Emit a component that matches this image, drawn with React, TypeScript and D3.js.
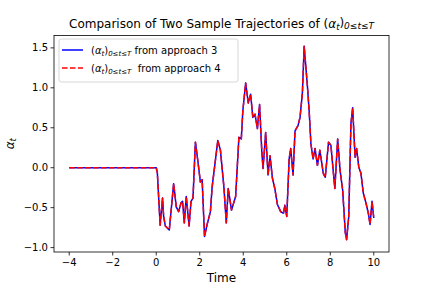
import React from "react";
import * as d3 from "d3";

// sample trajectory
const times = [
  -4, 0, 0.05, 0.18, 0.29, 0.34, 0.42, 0.6, 0.8, 0.92, 1.03, 1.14, 1.21, 1.29,
  1.38, 1.51, 1.6, 1.69, 1.8, 1.91, 2.03, 2.11, 2.22, 2.34, 2.49, 2.57, 2.83,
  2.95, 3.11, 3.22, 3.31, 3.46, 3.65, 3.8, 3.91, 3.98, 4.11, 4.23, 4.34, 4.44,
  4.54, 4.65, 4.75, 4.85, 4.91, 5.03, 5.14, 5.23, 5.34, 5.45, 5.57, 5.72, 5.85,
  5.91, 6.0, 6.11, 6.18, 6.29, 6.38, 6.52, 6.61, 6.72, 6.8, 6.95, 7.03, 7.11,
  7.21, 7.3, 7.41, 7.52, 7.68, 7.77, 7.92, 8.03, 8.21, 8.34, 8.45, 8.57, 8.69,
  8.75, 8.85, 8.95, 9.03, 9.14, 9.21, 9.31, 9.41, 9.52, 9.64, 9.75, 9.83, 9.92,
  10.0,
];
const approach3 = [
  0, 0, -0.06, -0.72, -0.38, -0.61, -0.73, -0.78, -0.2, -0.49, -0.55, -0.44,
  -0.42, -0.69, -0.36, -0.73, -0.42, -0.38, 0.32, 0.09, -0.18, -0.15, -0.86,
  -0.71, -0.55, -0.24, 0.34, 0.22, -0.24, -0.69, -0.26, -0.53, -0.36, 0.38,
  0.36, 0.71, 1.06, 0.81, 0.92, 0.63, 0.67, 0.49, 0.79, 0.22, -0.01, 0.44,
  -0.09, 0.15, -0.13, -0.26, -0.46, -0.55, -0.57, -0.47, -0.61, 0.11, 0.24,
  -0.09, 0.46, 0.53, 0.63, 0.94, 1.52, 1.02, 0.71, 0.3, 0.11, 0.24, 0.03, 0.22,
  -0.07, -0.12, 0.32, 0.28, -0.26, 0.36, -0.03, -0.28, -0.81, -0.9, -0.61,
  0.55, 0.75, 0.13, 0.24, 0.01, -0.07, -0.32, -0.44, -0.57, -0.71, -0.42, -0.63,
];
// approach 4 lies on top of approach 3 everywhere in the picture
const approach4 = [...approach3];
const xTicks = [-4, -2, 0, 2, 4, 6, 8, 10];
const yTicks = [-1.0, -0.5, 0.0, 0.5, 1.0, 1.5];

const W = 432;
const H = 288;
const left = 54;
const right = 389;
const top = 35.5;
const bottom = 252;
const font = "'DejaVu Sans', sans-serif";

const fmt = (v: number) => v.toFixed(1).replace("-", "\u2212");
const fmtX = (v: number) => String(v).replace("-", "\u2212");

const Sub = () => (
  <>
    <tspan fontStyle="italic">α</tspan>
    <tspan fontStyle="italic" fontSize="0.7em" dy="0.25em">t</tspan>
  </>
);

const LegendLabel = ({ x, y, text }: { x: number; y: number; text: string }) => (
  <text x={x} y={y} fontSize={10} fill="#000" fontFamily={font} style={{ whiteSpace: "pre" }}>
    (<tspan fontStyle="italic">α</tspan>
    <tspan fontStyle="italic" fontSize={7} dy={2}>t</tspan>
    <tspan dy={-2}>)</tspan>
    <tspan fontSize={7} dy={2} fontStyle="italic">0≤t≤T</tspan>
    <tspan dy={-2}>{text}</tspan>
  </text>
);

export default function App() {
  const x = d3.scaleLinear().domain([-4.7, 10.7]).range([left, right]);
  const y = d3.scaleLinear().domain([-1.055, 1.655]).range([bottom, top]);
  const line = d3
    .line<number>()
    .x((_, i) => x(times[i]))
    .y((d) => y(d));

  return (
    <svg width={W} height={H} style={{ display: "block", position: "absolute", left: 0, top: 0 }}>
      <rect width={W} height={H} fill="#fff" />
      <defs>
        <clipPath id="plot">
          <rect x={left} y={top} width={right - left} height={bottom - top} />
        </clipPath>
      </defs>

      <g clipPath="url(#plot)">
        <path d={line(approach3) || ""} fill="none" stroke="blue" strokeWidth={1.5} strokeLinejoin="round" />
        <path
          d={line(approach4) || ""}
          fill="none"
          stroke="red"
          strokeWidth={1.5}
          strokeDasharray="5.55 2.4"
          strokeLinejoin="round"
        />
      </g>

      <rect x={left} y={top} width={right - left} height={bottom - top} fill="none" stroke="#000" strokeWidth={0.8} />

      {xTicks.map((t) => (
        <g key={t} transform={`translate(${x(t)},${bottom})`}>
          <line y2={3.5} stroke="#000" strokeWidth={0.8} />
          <text y={14} textAnchor="middle" fontSize={10} fontFamily={font} fill="#000">
            {fmtX(t)}
          </text>
        </g>
      ))}
      {yTicks.map((t) => (
        <g key={t} transform={`translate(${left},${y(t)})`}>
          <line x2={-3.5} stroke="#000" strokeWidth={0.8} />
          <text x={-6} dy="0.35em" textAnchor="end" fontSize={10} fontFamily={font} fill="#000">
            {fmt(t)}
          </text>
        </g>
      ))}

      <text x={(left + right) / 2} y={28} textAnchor="middle" fontSize={12} fontFamily={font} fill="#000">
        Comparison of Two Sample Trajectories of (<Sub />
        <tspan dy="-0.25em">)</tspan>
        <tspan fontStyle="italic" fontSize="0.75em" dy="0.25em">0≤t≤T</tspan>
      </text>

      <text x={(left + right) / 2} y={282} textAnchor="middle" fontSize={12} fontFamily={font} fill="#000">
        Time
      </text>
      <text transform={`translate(14,${(top + bottom) / 2}) rotate(-90)`} textAnchor="middle" fontSize={12} fontFamily={font} fill="#000">
        <Sub />
      </text>

      <g>
        <rect x={59} y={39} width={179} height={43} rx={2.5} fill="#fff" fillOpacity={0.8} stroke="#ccc" strokeWidth={0.8} />
        <line x1={62} x2={83} y1={50} y2={50} stroke="blue" strokeWidth={1.5} />
        <LegendLabel x={91} y={53.5} text=" from approach 3" />
        <line x1={62} x2={83} y1={68} y2={68} stroke="red" strokeWidth={1.5} strokeDasharray="5.55 2.4" />
        <LegendLabel x={91} y={71.5} text="  from approach 4" />
      </g>
    </svg>
  );
}
